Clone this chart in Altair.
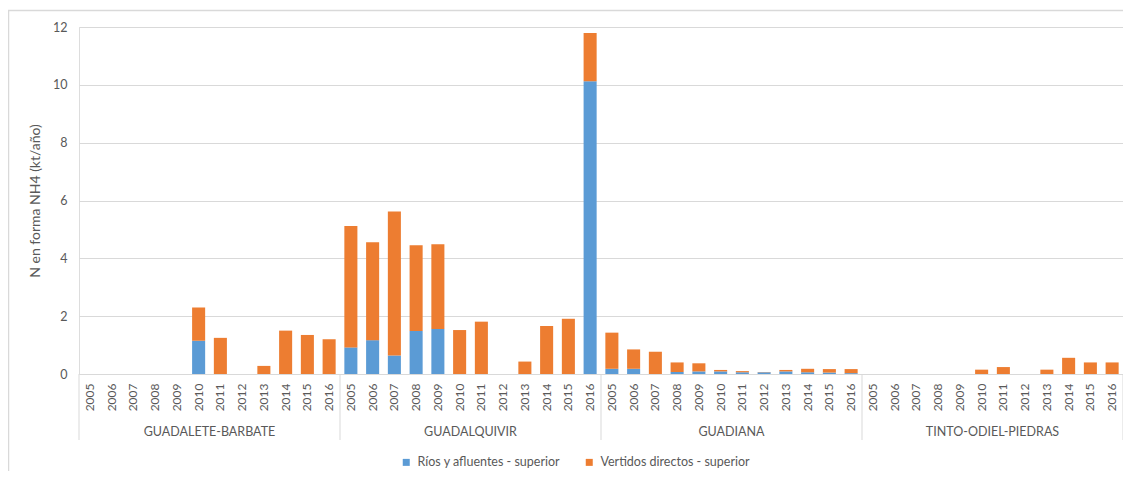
import altair as alt
import pandas as pd

years = [str(y) for y in range(2005, 2017)]
groups = ["GUADALETE-BARBATE", "GUADALQUIVIR", "GUADIANA", "TINTO-ODIEL-PIEDRAS"]
series = ["Ríos y afluentes - superior", "Vertidos directos - superior"]

rios = {
    "GUADALETE-BARBATE": [0, 0, 0, 0, 0, 1.15, 0, 0, 0, 0, 0, 0],
    "GUADALQUIVIR": [0.92, 1.17, 0.64, 1.49, 1.56, 0, 0, 0, 0, 0, 0, 10.12],
    "GUADIANA": [0.18, 0.18, 0, 0.07, 0.09, 0.09, 0.06, 0.06, 0.09, 0.06, 0.05, 0.03],
    "TINTO-ODIEL-PIEDRAS": [0, 0, 0, 0, 0, 0, 0, 0, 0, 0, 0, 0],
}
vertidos = {
    "GUADALETE-BARBATE": [0, 0, 0, 0, 0, 1.15, 1.25, 0, 0.28, 1.50, 1.35, 1.20],
    "GUADALQUIVIR": [4.20, 3.39, 4.98, 2.96, 2.93, 1.52, 1.81, 0, 0.43, 1.66, 1.91, 1.67],
    "GUADIANA": [1.25, 0.67, 0.77, 0.33, 0.28, 0.05, 0.04, 0.01, 0.05, 0.12, 0.12, 0.14],
    "TINTO-ODIEL-PIEDRAS": [0, 0, 0, 0, 0, 0.15, 0.24, 0, 0.15, 0.56, 0.40, 0.40],
}

keys = [f"{g}|{y}" for g in groups for y in years]

rows = []
for g in groups:
    for i, y in enumerate(years):
        rows.append({"key": f"{g}|{y}", "serie": series[0], "idx": 0, "valor": rios[g][i]})
        rows.append({"key": f"{g}|{y}", "serie": series[1], "idx": 1, "valor": vertidos[g][i]})
df = pd.DataFrame(rows)

W, H = 1044, 347
TXT = "#595959"
LINE = "#d9d9d9"
FONT = "Lato"

xscale = alt.Scale(domain=keys, paddingInner=0, paddingOuter=0)

bars = alt.Chart(df).mark_bar(width={"band": 0.6}).encode(
    x=alt.X("key:N", scale=xscale, sort=keys,
            axis=alt.Axis(title=None, labelExpr="split(datum.value, '|')[1]",
                          labelAngle=270, labelAlign="right", labelBaseline="middle",
                          labelPadding=9, ticks=False, domainColor=LINE,
                          labelColor=TXT, labelFontSize=12, labelFont=FONT, grid=False)),
    y=alt.Y("valor:Q", stack="zero",
            scale=alt.Scale(domain=[0, 12], nice=False),
            axis=alt.Axis(title="N en forma NH4 (kt/año)", values=[0, 2, 4, 6, 8, 10, 12],
                          grid=True, gridColor=LINE, domain=False, ticks=False,
                          labelPadding=12, labelColor=TXT, labelFontSize=12.5, labelFont=FONT,
                          titleColor=TXT, titleFontSize=14, titleFont=FONT,
                          titleFontWeight="normal", titlePadding=10)),
    color=alt.Color("serie:N",
                    scale=alt.Scale(domain=series, range=["#5b9bd5", "#ed7d31"]),
                    legend=alt.Legend(title=None, orient="none", legendX=321, legendY=429,
                                      direction="horizontal", symbolType="square",
                                      symbolSize=49, symbolStrokeWidth=0,
                                      labelFontSize=12.5, labelFont=FONT, labelColor=TXT,
                                      columnPadding=22, labelOffset=5)),
    order=alt.Order("idx:Q"),
)

gdf = pd.DataFrame({"grupo": groups,
                    "mid": [f"{g}|2010" for g in groups],
                    "start": [f"{g}|2005" for g in groups]})

labels = alt.Chart(gdf).mark_text(font=FONT, fontSize=12.5, color=TXT, baseline="middle").encode(
    x=alt.X("mid:N", scale=xscale, bandPosition=1),
    y=alt.value(H + 58),
    text="grupo:N",
)

seps = alt.Chart(gdf).mark_rule(color=LINE, strokeWidth=1).encode(
    x=alt.X("start:N", scale=xscale, bandPosition=0),
    y=alt.value(H),
    y2=alt.value(H + 66),
)

end_df = pd.DataFrame({"end": [keys[-1]]})
sep_end = alt.Chart(end_df).mark_rule(color=LINE, strokeWidth=1).encode(
    x=alt.X("end:N", scale=xscale, bandPosition=1),
    y=alt.value(H),
    y2=alt.value(H + 66),
)

border = alt.Chart(end_df).mark_rect(fill=None, stroke=LINE, strokeWidth=1.5).encode(
    x=alt.value(-70.5), x2=alt.value(W + 30),
    y=alt.value(-16.5), y2=alt.value(H + 200),
)

chart = alt.layer(border, bars, seps, sep_end, labels).resolve_scale(x="shared").properties(
    width=W, height=H,
    autosize=alt.AutoSizeParams(type="none"),
    padding={"left": 71, "top": 19, "right": 0, "bottom": 97},
).configure_view(stroke=None).configure(background="white")

chart.save("out.html", embed_options={"renderer": "svg", "actions": False})
